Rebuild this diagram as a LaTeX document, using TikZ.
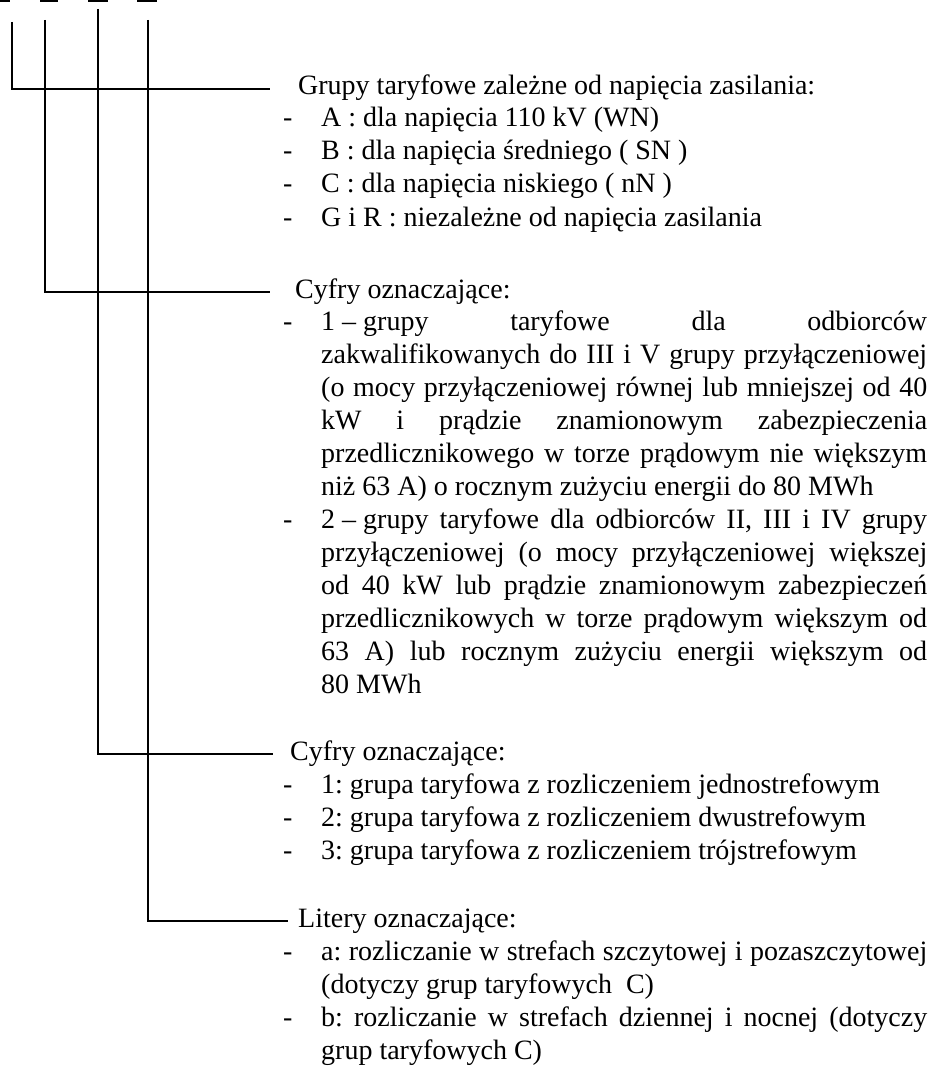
\documentclass[tikz,border=0pt]{standalone}
\usepackage{fontspec}
\setmainfont{Liberation Serif}
\newcommand\normsp{\frenchspacing\spaceskip=0pt\xspaceskip=0pt\relax}
\newcommand\jline[1]{{\normsp\makebox[\linewidth][s]{#1}}}
\newcommand\dashmark{\llap{\makebox[38pt][l]{-}}}
\newcommand\fs{\kern7pt\relax}
\begin{document}
\begin{tikzpicture}[x=1pt,y=-1pt,
  rule/.style={line width=2pt},
  heading/.style={anchor=base west, inner sep=0pt, text height=18pt, text depth=6pt,
    font=\fontsize{28}{33}\selectfont\normsp},
  entry/.style={anchor=base west, inner sep=0pt, text width=606pt, align=left,
    font=\fontsize{28}{33}\selectfont, execute at begin node=\normsp},
]
\useasboundingbox (0,0) rectangle (940,1067);

% fragments at the top edge
\draw[rule] (0,1) -- (10,1);
\draw[rule] (40,1) -- (58,1);
\draw[rule] (88,1) -- (108,1);
\draw[rule] (137,1) -- (157,1);

% tops of the four stems
\coordinate (v1) at (11.5,22);
\coordinate (v2) at (45,20);
\coordinate (v3) at (98,9);
\coordinate (v4) at (148,20);

% headings
\node[heading] (h1) at (298,95) {Grupy taryfowe zależne od napięcia zasilania:};
\node[heading] (h2) at (295,298) {Cyfry oznaczające:};
\node[heading] (h3) at (290,760) {Cyfry oznaczające:};
\node[heading] (h4) at (298,927) {Litery oznaczające:};

% connectors
\draw[rule] (v1) |- ([xshift=-28pt]h1.west);
\draw[rule] (v2) |- ([xshift=-25pt]h2.west);
\draw[rule] (v3) |- ([xshift=-17pt]h3.west);
\draw[rule] (v4) |- ([xshift=-10pt]h4.west);

% section 1
\node[entry] (s1a) at (321,127) {\dashmark A : dla napięcia 110 kV (WN)};
\node[entry] (s1b) at (321,160) {\dashmark B : dla napięcia średniego ( SN )};
\node[entry] (s1c) at (321,193) {\dashmark C : dla napięcia niskiego ( nN )};
\node[entry] (s1d) at (321,226) {\dashmark G i R : niezależne od napięcia zasilania};

% section 2
\node[entry] (s2a) at (321,330) {\dashmark\jline{1\fs–\fs grupy taryfowe dla odbiorców}\\
\jline{zakwalifikowanych do III i V grupy przyłączeniowej}\\
\jline{(o mocy przyłączeniowej równej lub mniejszej od 40}\\
\jline{kW i prądzie znamionowym zabezpieczenia}\\
\jline{przedlicznikowego w torze prądowym nie większym}\\
niż 63 A) o rocznym zużyciu energii do 80 MWh};
\node[entry] (s2b) at (321,528) {\dashmark\jline{2\fs–\fs grupy taryfowe dla odbiorców II, III i IV grupy}\\
\jline{przyłączeniowej (o mocy przyłączeniowej większej}\\
\jline{od 40 kW lub prądzie znamionowym zabezpieczeń}\\
\jline{przedlicznikowych w torze prądowym większym od}\\
\jline{63 A) lub rocznym zużyciu energii większym od}\\
80 MWh};

% section 3
\node[entry] (s3a) at (321,793) {\dashmark 1: grupa taryfowa z rozliczeniem jednostrefowym};
\node[entry] (s3b) at (321,826) {\dashmark 2: grupa taryfowa z rozliczeniem dwustrefowym};
\node[entry] (s3c) at (321,859) {\dashmark 3: grupa taryfowa z rozliczeniem trójstrefowym};

% section 4
\node[entry] (s4a) at (321,960) {\dashmark\jline{a: rozliczanie w strefach szczytowej i pozaszczytowej}\\
(dotyczy grup taryfowych\ \ C)};
\node[entry] (s4b) at (321,1026) {\dashmark\jline{b: rozliczanie w strefach dziennej i nocnej (dotyczy}\\
grup taryfowych C)};
\end{tikzpicture}
\end{document}
